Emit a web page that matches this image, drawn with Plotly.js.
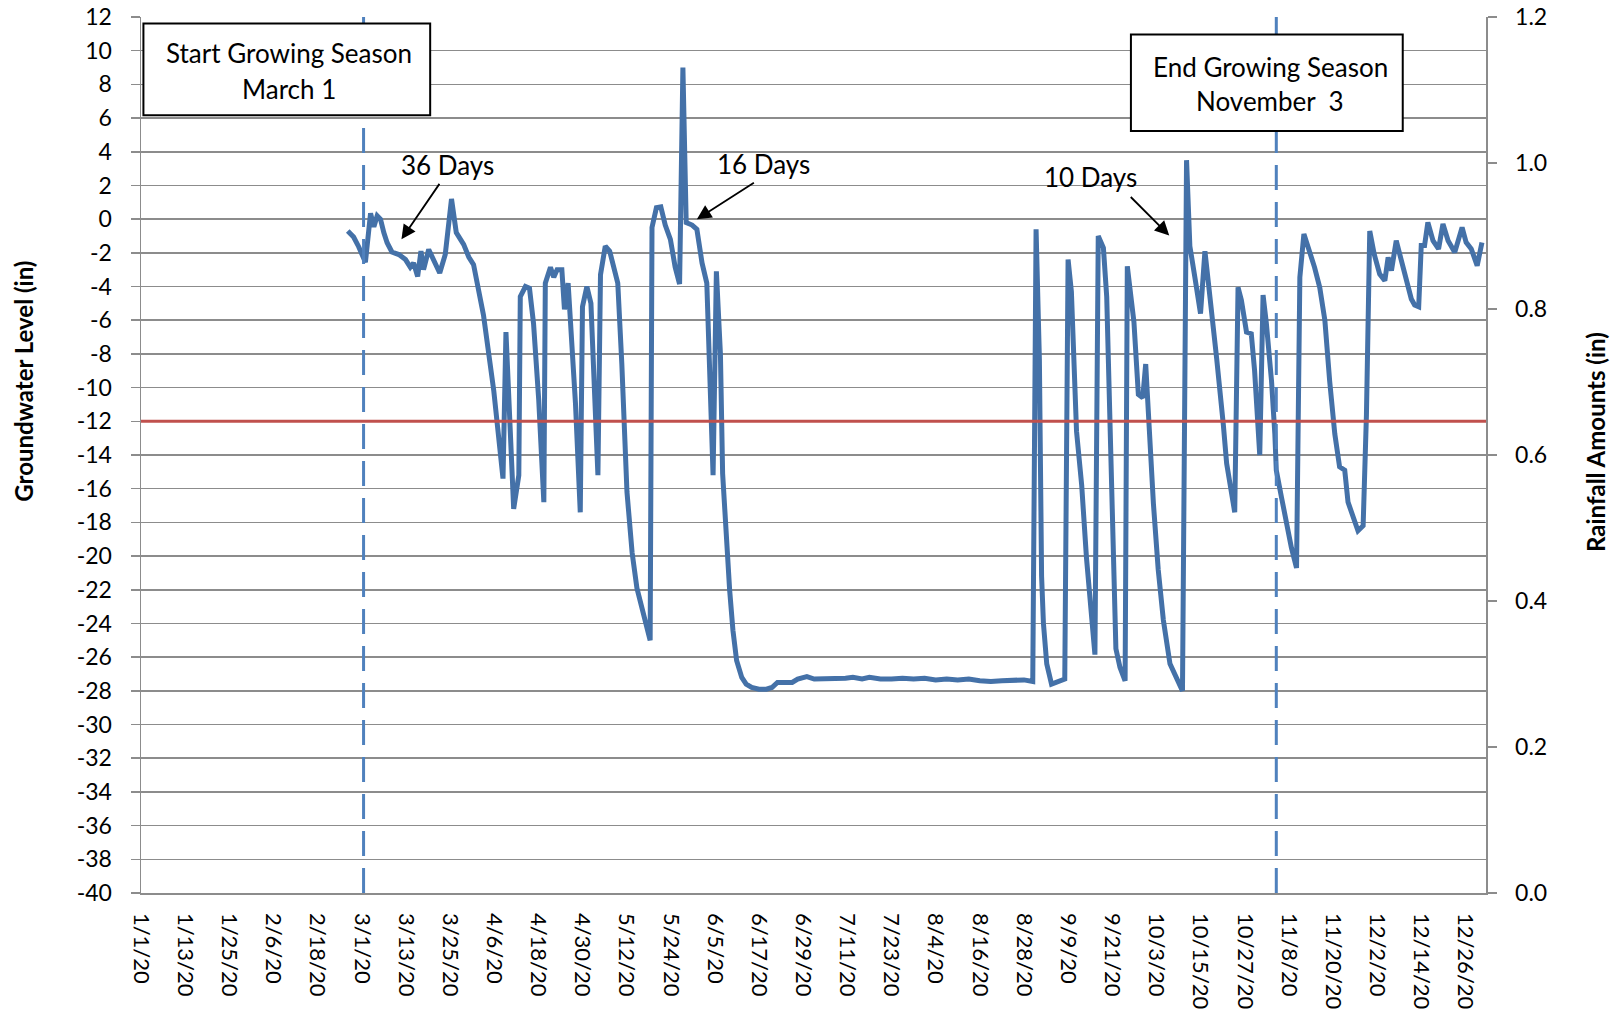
<!DOCTYPE html>
<html>
<head>
<meta charset="utf-8">
<script src="https://cdn.plot.ly/plotly-3.0.1.min.js"></script>
<style>
  html, body { margin: 0; padding: 0; background: #ffffff; }
  #chart { width: 1620px; height: 1013px; }
</style>
</head>
<body>
<div id="chart"></div>
<script>
// Day of year (0 = Jan 1, 2020) of each groundwater reading
const dayOfYear = [
  56.2, 57.8, 59.2, 61.0, 62.4, 63.3, 64.2, 65.1, 66.0, 66.9, 68.2, 70.1, 71.9, 73.2, 74.1, 75.2, 76.1, 76.8, 78.2, 79.6,
  81.2, 82.7, 84.4, 85.7, 87.7, 89.1, 90.4, 93.1, 95.9, 98.4, 99.2, 101.3, 102.7, 103.1, 104.5, 105.6, 106.7, 108.1, 109.5, 109.9,
  111.3, 112.2, 113.1, 114.4, 115.1, 116.1, 118.1, 119.4, 120.0, 121.2, 122.3, 124.2, 124.9, 126.2, 127.4, 129.6, 130.7, 132.1, 133.5, 134.8,
  136.6, 138.4, 138.9, 140.1, 141.3, 142.5, 143.9, 145.2, 146.4, 147.3, 148.2, 149.8, 151.1, 152.5, 153.8, 155.5, 156.4, 157.5, 158.1, 159.1,
  160.0, 160.9, 161.9, 163.3, 164.5, 166.0, 168.0, 170.0, 171.5, 173.0, 175.0, 177.0, 178.5, 180.0, 181.0, 183.0, 186.0, 189.0, 191.5, 193.5,
  196.0, 198.0, 201.0, 204.0, 207.0, 210.0, 213.0, 216.0, 219.0, 222.0, 225.0, 228.0, 231.0, 234.0, 237.0, 240.0, 242.4, 243.3, 244.2, 244.8,
  245.3, 246.2, 247.5, 250.7, 251.1, 252.0, 252.9, 254.3, 255.7, 257.0, 258.4, 259.3, 260.2, 261.6, 262.5, 263.4, 264.3, 265.0, 266.1, 267.5,
  268.1, 269.0, 269.9, 271.1, 272.3, 273.1, 274.1, 275.2, 276.5, 277.9, 279.7, 281.5, 283.1, 284.2, 285.1, 286.5, 288.0, 289.2, 290.5, 292.4,
  294.2, 295.1, 297.3, 298.2, 299.1, 300.5, 301.8, 302.7, 304.1, 305.0, 305.9, 307.3, 308.2, 308.6, 310.0, 311.3, 312.7, 314.1, 315.0, 316.1,
  317.7, 319.0, 320.4, 321.8, 323.1, 324.5, 325.8, 327.2, 328.1, 329.5, 330.8, 332.2, 333.1, 334.0, 335.2, 336.7, 338.1, 339.0, 339.9, 341.2,
  342.6, 343.9, 345.3, 346.2, 347.3, 348.0, 348.9, 349.8, 351.2, 352.7, 353.9, 355.3, 357.1, 359.1, 360.2, 361.6, 363.2, 364.5
];
// Groundwater level (in)
const groundwaterLevel = [
  -0.7, -1.06, -1.65, -2.56, 0.35, -0.45, 0.2, 0.0, -0.8, -1.4, -1.95, -2.1, -2.4, -2.85, -2.6, -3.4, -1.9, -3.0, -1.8, -2.4,
  -3.2, -2.1, 1.2, -0.8, -1.5, -2.25, -2.7, -5.7, -10.2, -15.4, -6.7, -17.2, -15.2, -4.6, -4.0, -4.1, -6.2, -10.7, -16.8, -3.8,
  -2.85, -3.45, -3.0, -3.0, -5.35, -3.8, -10.95, -17.4, -5.2, -4.0, -5.0, -15.2, -3.3, -1.6, -1.9, -3.8, -8.6, -16.2, -19.8, -21.9,
  -23.6, -25.0, -0.5, 0.68, 0.73, -0.35, -1.2, -2.85, -3.85, 9.0, -0.2, -0.35, -0.6, -2.6, -3.8, -15.2, -3.1, -8.0, -15.1, -19.0,
  -22.0, -24.4, -26.2, -27.2, -27.6, -27.8, -27.9, -27.9, -27.8, -27.5, -27.5, -27.5, -27.3, -27.2, -27.15, -27.3, -27.3, -27.3, -27.25, -27.2,
  -27.3, -27.2, -27.3, -27.3, -27.25, -27.3, -27.25, -27.35, -27.3, -27.35, -27.3, -27.4, -27.45, -27.4, -27.4, -27.35, -27.45, -0.6, -8.3, -21.2,
  -24.0, -26.4, -27.6, -27.4, -27.3, -2.4, -4.3, -12.6, -15.8, -20.1, -24.0, -25.85, -1.0, -1.7, -4.6, -12.6, -20.1, -25.5, -26.6, -27.4,
  -2.8, -4.4, -6.1, -10.4, -10.6, -8.6, -12.6, -16.9, -20.8, -23.8, -26.4, -27.25, -28.0, 3.5, -1.6, -3.5, -5.6, -1.9, -4.4, -8.3,
  -12.2, -14.5, -17.4, -4.05, -4.8, -6.7, -6.8, -9.0, -14.0, -4.5, -6.2, -9.6, -12.75, -14.9, -16.5, -18.1, -19.5, -20.7, -3.45, -0.88,
  -1.87, -2.86, -4.05, -6.0, -9.6, -12.75, -14.7, -14.9, -16.8, -17.8, -18.5, -18.2, -11.6, -0.7, -2.07, -3.26, -3.65, -2.27, -3.06, -1.28,
  -2.47, -3.65, -4.74, -5.1, -5.2, -1.57, -1.57, -0.19, -1.28, -1.77, -0.29, -1.28, -1.97, -0.49, -1.38, -1.77, -2.76, -1.38
];
// Rainfall amounts (in) - secondary axis, no visible values in the chart
const rainfallDays = [];
const rainfallAmounts = [];

// X tick positions (day of year) and labels
const tickDays = [0, 12, 24, 36, 48, 60, 72, 84, 96, 108, 120, 132, 144, 156, 168, 180, 192, 204, 216, 228, 240, 252, 264, 276, 288, 300, 312, 324, 336, 348, 360];
const tickLabels = ['1/1/20', '1/13/20', '1/25/20', '2/6/20', '2/18/20', '3/1/20', '3/13/20', '3/25/20', '4/6/20', '4/18/20', '4/30/20',
  '5/12/20', '5/24/20', '6/5/20', '6/17/20', '6/29/20', '7/11/20', '7/23/20', '8/4/20', '8/16/20', '8/28/20', '9/9/20', '9/21/20',
  '10/3/20', '10/15/20', '10/27/20', '11/8/20', '11/20/20', '12/2/20', '12/14/20', '12/26/20'];
// Left axis ticks (groundwater level) and their labels
const levelTicks = [-40, -38, -36, -34, -32, -30, -28, -26, -24, -22, -20, -18, -16, -14, -12, -10, -8, -6, -4, -2, 0, 2, 4, 6, 8, 10, 12];
const levelTickLabels = ['-40', '-38', '-36', '-34', '-32', '-30', '-28', '-26', '-24', '-22', '-20', '-18', '-16', '-14', '-12', '-10',
  '-8', '-6', '-4', '-2', '0', '2', '4', '6', '8', '10', '12'];

const thresholdLevel = -12;
const seasonStartDay = 60.5;
const seasonEndDay = 308.6;

const FONT = 'Lato, "Open Sans", sans-serif';
const GRID = '#8c8c8c';

const traces = [
  {
    x: dayOfYear, y: groundwaterLevel, type: 'scatter', mode: 'lines',
    line: { color: '#4471A8', width: 5 },
    name: 'Groundwater Level', hoverinfo: 'skip'
  },
  {
    x: rainfallDays, y: rainfallAmounts, type: 'scatter', mode: 'lines',
    yaxis: 'y2', name: 'Rainfall', showlegend: false, hoverinfo: 'skip'
  }
];

const txt = (x, y, text, size) => ({
  xref: 'paper', yref: 'paper', x: x, y: y, xanchor: 'center', yanchor: 'middle',
  text: text, showarrow: false, font: { family: FONT, size: size, color: '#000000' }
});
const arrow = (x, y, ax, ay) => ({
  xref: 'x', yref: 'y', x: x, y: y, ax: ax, ay: ay, text: '', showarrow: true,
  arrowhead: 2, arrowsize: 1.6, arrowwidth: 1.8, arrowcolor: '#000000', standoff: 0, startstandoff: 0
});

const layout = {
  width: 1620, height: 1013,
  margin: { l: 140.5, r: 133.7, t: 16.7, b: 120.3, pad: 0 },
  paper_bgcolor: '#ffffff', plot_bgcolor: '#ffffff',
  showlegend: false,
  font: { family: FONT, size: 22, color: '#000000' },
  xaxis: {
    range: [0, 365.6], tickmode: 'array', tickvals: tickDays, ticktext: tickLabels,
    tickangle: 90, ticks: '', showgrid: false, zeroline: false,
    showline: true, linecolor: GRID, linewidth: 1.5,
    tickfont: { family: FONT, size: 22, color: '#000000' },
    ticklabelstandoff: 14, fixedrange: true
  },
  yaxis: {
    range: [-40, 12], tickmode: 'array', tickvals: levelTicks, ticktext: levelTickLabels,
    ticks: 'outside', ticklen: 9, tickwidth: 1.5, tickcolor: GRID,
    showgrid: true, gridcolor: GRID, gridwidth: 1.5, zeroline: false,
    showline: true, linecolor: GRID, linewidth: 1.5,
    tickfont: { family: FONT, size: 23, color: '#000000' },
    ticklabelstandoff: 14, fixedrange: true
  },
  yaxis2: {
    overlaying: 'y', side: 'right', range: [0, 1.2], dtick: 0.2, tick0: 0, tickformat: '.1f',
    ticks: 'outside', ticklen: 9, tickwidth: 1.5, tickcolor: GRID,
    showgrid: false, zeroline: false, showline: true, linecolor: GRID, linewidth: 1.5,
    tickfont: { family: FONT, size: 23, color: '#000000' },
    ticklabelstandoff: 14, fixedrange: true
  },
  shapes: [
    { type: 'line', xref: 'paper', x0: 0, x1: 1, yref: 'y', y0: thresholdLevel, y1: thresholdLevel,
      line: { color: '#C0504D', width: 3 } },
    { type: 'line', xref: 'x', x0: seasonStartDay, x1: seasonStartDay, yref: 'paper', y0: 1, y1: 0,
      line: { color: '#4F81BD', width: 3, dash: '25px,12px' } },
    { type: 'line', xref: 'x', x0: seasonEndDay, x1: seasonEndDay, yref: 'paper', y0: 1, y1: 0,
      line: { color: '#4F81BD', width: 3, dash: '25px,12px' } },
    { type: 'rect', xref: 'paper', yref: 'paper', x0: 0.0018, x1: 0.2150, y0: 0.8878, y1: 0.9925,
      fillcolor: '#ffffff', line: { color: '#000000', width: 2 }, layer: 'above' },
    { type: 'rect', xref: 'paper', yref: 'paper', x0: 0.7360, x1: 0.9381, y0: 0.8699, y1: 0.9799,
      fillcolor: '#ffffff', line: { color: '#000000', width: 2 }, layer: 'above' }
  ],
  annotations: [
    Object.assign(txt(-0.0875, 0.5841, '<b>Groundwater Level (in)</b>', 24), { textangle: -90 }),
    Object.assign(txt(1.0819, 0.5151, '<b>Rainfall Amounts (in)</b>', 24), { textangle: -90 }),
    txt(0.1103, 0.9589, 'Start Growing Season', 26),
    txt(0.1103, 0.9183, 'March 1', 26),
    txt(0.8395, 0.9429, 'End Growing Season', 26),
    txt(0.8395, 0.9041, 'November\u00a0\u00a03', 26),
    { xref: 'x', yref: 'y', x: 83.3, y: 3.2, xanchor: 'center', yanchor: 'middle', text: '36 Days',
      showarrow: false, font: { family: FONT, size: 26, color: '#000000' } },
    { xref: 'x', yref: 'y', x: 169.1, y: 3.26, xanchor: 'center', yanchor: 'middle', text: '16 Days',
      showarrow: false, font: { family: FONT, size: 26, color: '#000000' } },
    { xref: 'x', yref: 'y', x: 258.0, y: 2.48, xanchor: 'center', yanchor: 'middle', text: '10 Days',
      showarrow: false, font: { family: FONT, size: 26, color: '#000000' } },
    arrow(70.8, -1.2, 39, -57),
    arrow(151.1, 0.0, 58.5, -37.3),
    arrow(279.5, -0.97, -40, -40)
  ]
};

Plotly.newPlot('chart', traces, layout, { displayModeBar: false, staticPlot: true });
</script>
</body>
</html>
